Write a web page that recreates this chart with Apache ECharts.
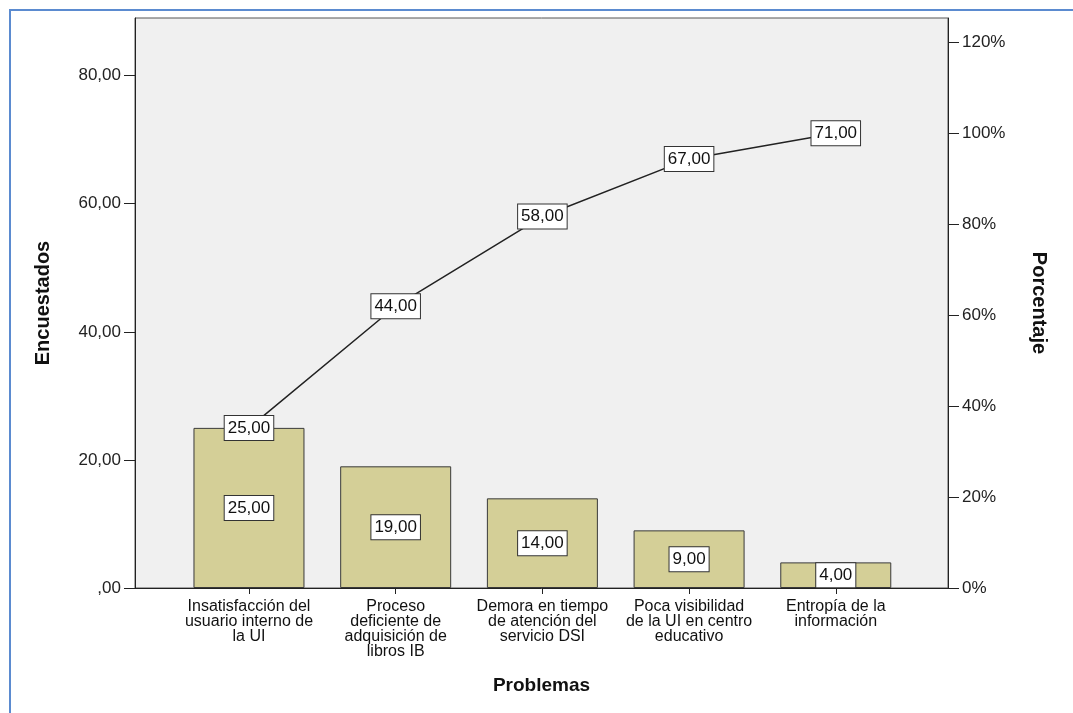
<!DOCTYPE html>
<html>
<head>
<meta charset="utf-8">
<script src="https://cdn.jsdelivr.net/npm/echarts@6/dist/echarts.min.js"></script>
<style>
  html, body { margin: 0; padding: 0; background: #fff; }
  #container { width: 1073px; height: 713px; }
</style>
</head>
<body>
<div id="container"></div>
<script>
// datos del grafico de Pareto
var categories = [
	'Insatisfacción del\nusuario interno de\nla UI',
	'Proceso\ndeficiente de\nadquisición de\nlibros IB',
	'Demora en tiempo\nde atención del\nservicio DSI',
	'Poca visibilidad\nde la UI en centro\neducativo',
	'Entropía de la\ninformación'
];
var counts = [25, 19, 14, 9, 4];
var cumulative = [25, 44, 58, 67, 71];
var leftTicks = [0, 20, 40, 60, 80];
var rightTicks = [0, 20, 40, 60, 80, 100, 120];
var leftMax = 89;
var total = 71;

function fmt(v) {
	if (v === 0) return ',00';
	return v.toFixed(2).replace('.', ',');
}

var font = '"Liberation Sans", Arial, sans-serif';
var boxLabel = {
	show: true,
	position: 'inside',
	fontFamily: font,
	fontSize: 17,
	color: '#111',
	backgroundColor: '#fff',
	borderColor: '#333',
	borderWidth: 1,
	padding: [4, 3, 3, 3]
};

var dom = document.getElementById('container');
var myChart = echarts.init(dom);
var catIdx = [];
for (var i = 0; i < categories.length; i++) catIdx.push(i);

var option = {
	animation: false,
	graphic: [{
		type: 'polyline',
		shape: { points: [[10, 713], [10, 10], [1073, 10]] },
		style: { stroke: '#5b8bd0', lineWidth: 2, fill: null },
		silent: true
	}],
	grid: {
		left: 135,
		right: 125,
		top: 18,
		bottom: 125,
		show: true,
		backgroundColor: '#f0f0f0',
		borderColor: '#555',
		borderWidth: 1
	},
	xAxis: {
		type: 'value',
		min: -0.777,
		max: 4.765,
		name: 'Problemas',
		nameLocation: 'middle',
		nameGap: 88,
		nameTextStyle: { fontFamily: font, fontSize: 19, fontWeight: 'bold', color: '#111' },
		axisLine: { show: true, onZero: false, lineStyle: { color: '#222', width: 1 } },
		axisTick: { show: true, length: 6, customValues: catIdx, lineStyle: { color: '#222' } },
		axisLabel: {
			customValues: catIdx,
			margin: 11,
			fontFamily: font,
			fontSize: 16,
			lineHeight: 15,
			color: '#111',
			formatter: function(v) { return categories[Math.round(v)]; }
		},
		splitLine: { show: false }
	},
	yAxis: [
		{
			type: 'value',
			min: 0,
			max: leftMax,
			name: 'Encuestados',
			nameLocation: 'middle',
			nameGap: 82,
			nameTextStyle: { fontFamily: font, fontSize: 20, fontWeight: 'bold', color: '#111' },
			axisLine: { show: true, onZero: false, lineStyle: { color: '#222', width: 1 } },
			axisTick: { show: true, length: 11, customValues: leftTicks, lineStyle: { color: '#222' } },
			axisLabel: {
				customValues: leftTicks,
				margin: 14,
				fontFamily: font,
				fontSize: 17,
				color: '#222',
				formatter: function(v) { return fmt(v); }
			},
			splitLine: { show: false }
		},
		{
			type: 'value',
			min: 0,
			max: leftMax / total * 100,
			position: 'right',
			name: 'Porcentaje',
			nameLocation: 'middle',
			nameGap: 81,
			nameRotate: -90,
			nameTextStyle: { fontFamily: font, fontSize: 20, fontWeight: 'bold', color: '#111' },
			axisLine: { show: true, onZero: false, lineStyle: { color: '#222', width: 1 } },
			axisTick: { show: true, length: 11, customValues: rightTicks, lineStyle: { color: '#222' } },
			axisLabel: {
				customValues: rightTicks,
				margin: 14,
				fontFamily: font,
				fontSize: 17,
				color: '#222',
				formatter: function(v) { return Math.round(v) + '%'; }
			},
			splitLine: { show: false }
		}
	],
	series: [
		{
			name: 'Encuestados',
			type: 'bar',
			barWidth: 111,
			data: counts.map(function(v, i) { return [i, v]; }),
			itemStyle: { color: '#d4cf97', borderColor: '#3a3a3a', borderWidth: 1 },
			label: Object.assign({}, boxLabel, {
				formatter: function(p) { return fmt(p.value[1]); }
			}),
			z: 2
		},
		{
			name: 'Acumulado',
			type: 'line',
			data: cumulative.map(function(v, i) { return [i, v]; }),
			symbol: 'rect',
			symbolSize: 1,
			lineStyle: { color: '#222', width: 1.5 },
			itemStyle: { color: '#222' },
			label: Object.assign({}, boxLabel, {
				formatter: function(p) { return fmt(p.value[1]); }
			}),
			z: 5
		}
	]
};

if (option && typeof option === "object") {
	myChart.setOption(option, true);
}
</script>
</body>
</html>
